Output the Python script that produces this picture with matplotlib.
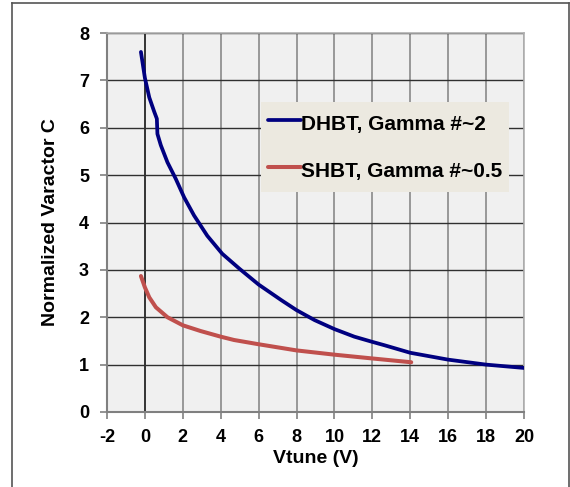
import matplotlib
matplotlib.use("Agg")
import matplotlib.pyplot as plt

plt.rcParams['font.family'] = ['Liberation Sans', 'DejaVu Sans']
plt.rcParams['axes.unicode_minus'] = False

# Data
dhbt_v = [-0.21, 0.0, 0.23, 0.49, 0.63, 0.66, 0.84, 1.19, 1.63, 2.07, 2.59, 3.29, 4.08,
          5.0, 6.0, 7.2, 8.0, 8.95, 10.0, 11.05, 12.0, 12.63, 14.0, 16.0, 18.0, 20.0]
dhbt_c = [7.60, 7.05, 6.64, 6.34, 6.19, 5.87, 5.63, 5.27, 4.92, 4.53, 4.15, 3.72, 3.34,
          3.02, 2.69, 2.36, 2.15, 1.94, 1.75, 1.59, 1.48, 1.41, 1.25, 1.105, 1.0, 0.93]
shbt_v = [-0.21, 0.0, 0.23, 0.58, 1.19, 2.0, 2.93, 4.0, 4.7, 6.0, 8.0, 10.0, 12.0, 14.05]
shbt_c = [2.87, 2.63, 2.42, 2.21, 2.0, 1.83, 1.71, 1.59, 1.52, 1.43, 1.30, 1.21, 1.13, 1.05]
labels = ["DHBT, Gamma #~2", "SHBT, Gamma #~0.5"]
x_ticks = list(range(-2, 21, 2))
y_ticks = list(range(0, 9))

fig = plt.figure(figsize=(5.7, 4.87), dpi=100)
fig.patch.set_facecolor('white')

# outer frame
W, H = 570, 487
frame_kw = dict(transform=fig.transFigure, color='#555555', lw=1.2)
fig.add_artist(plt.Line2D([12 / W, 12 / W], [0, 1 - 3 / H], **frame_kw))
fig.add_artist(plt.Line2D([12 / W, 568.5 / W], [1 - 3 / H, 1 - 3 / H], **frame_kw))
fig.add_artist(plt.Line2D([568.5 / W, 568.5 / W], [0, 1 - 3 / H], **frame_kw))

ax = fig.add_axes([107 / W, (H - 412) / H, (524 - 107) / W, (412 - 33) / H])
ax.set_facecolor('#f0f0f0')
ax.set_xlim(-2, 20)
ax.set_ylim(0, 8)
ax.set_xticks(x_ticks)
ax.set_yticks(y_ticks)

for xv in x_ticks:
    ax.axvline(xv, color='#000000' if xv == 0 else '#808080', lw=1.1, zorder=1)
for yv in y_ticks[1:]:
    ax.axhline(yv, color='#303030', lw=1.0, zorder=1)

ax.plot(dhbt_v, dhbt_c, color='#000080', lw=2.7, label=labels[0], zorder=3,
        solid_capstyle='round', solid_joinstyle='round')
ax.plot(shbt_v, shbt_c, color='#c0504d', lw=2.9, label=labels[1], zorder=3,
        solid_capstyle='round', solid_joinstyle='round')

for s in ['left', 'bottom']:
    ax.spines[s].set_color('#808080')
    ax.spines[s].set_linewidth(1.5)
for s in ['top', 'right']:
    ax.spines[s].set_color('#b0b0b0')
    ax.spines[s].set_linewidth(1.2)

ax.tick_params(direction='out', length=5, width=1.2, color='#808080', labelsize=13)
ax.tick_params(axis='y', pad=8)
ax.tick_params(axis='x', pad=7)
for lab in ax.get_xticklabels() + ax.get_yticklabels():
    lab.set_fontweight('bold')

ax.set_xlabel("Vtune (V)", fontsize=14, fontweight='bold', labelpad=3)
ax.set_ylabel("Normalized Varactor C", fontsize=14, fontweight='bold', labelpad=14)

leg = ax.legend(loc='upper left', bbox_to_anchor=((261 - 107) / 417, (412 - 102) / 379),
                frameon=True, fancybox=False, facecolor='#ece9e0', edgecolor='none',
                framealpha=1, prop={'size': 15, 'weight': 'bold'},
                handlelength=1.55, handleheight=1.66, handletextpad=0.0,
                labelspacing=0.95, borderpad=0.35, borderaxespad=0)
leg.get_frame().set_linewidth(0)

fig.savefig("out.png", dpi=100)
